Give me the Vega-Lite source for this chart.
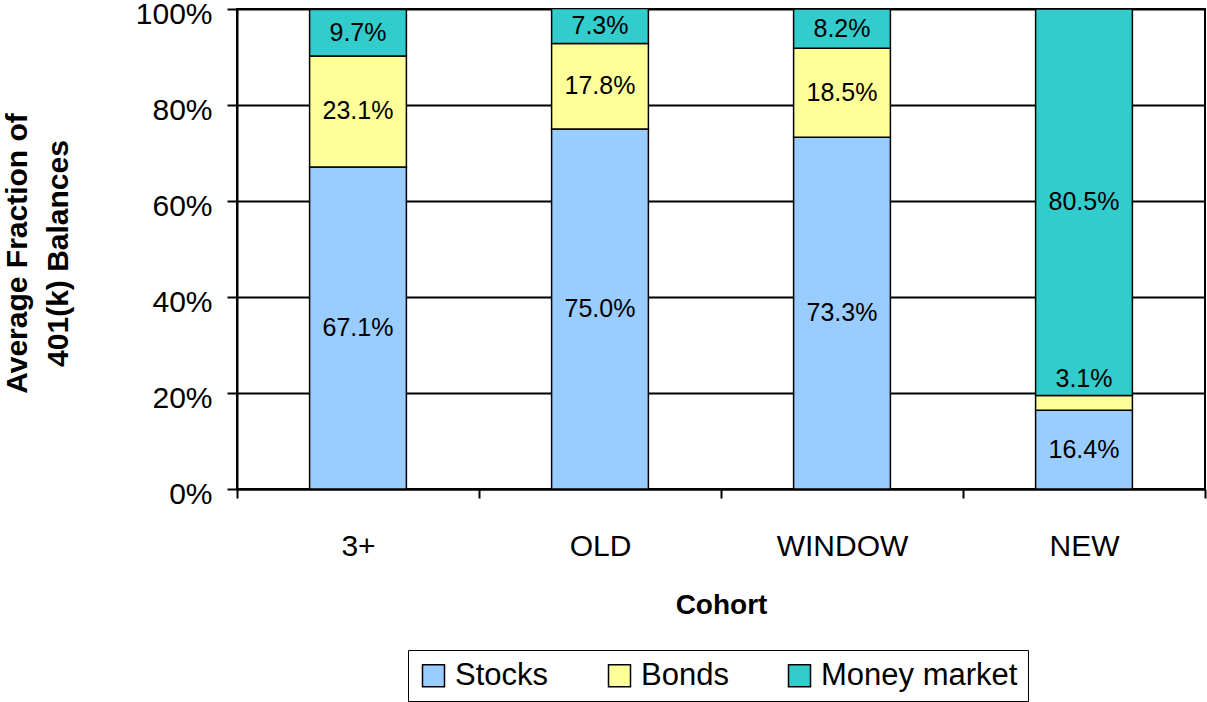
{
  "$schema": "https://vega.github.io/schema/vega-lite/v6.json",
  "width": 968,
  "height": 480,
  "autosize": {"type": "none"},
  "padding": {"left": 237, "top": 9, "right": 2, "bottom": 213},
  "background": "white",
  "config": {
    "font": "Liberation Sans",
    "view": {"stroke": "black", "strokeWidth": 2},
    "axis": {"labelColor": "black", "titleColor": "black", "domainColor": "black", "tickColor": "black", "gridColor": "black"}
  },
  "data": {
    "values": [
      {"cohort": "3+", "series": "Stocks", "value": 0.671},
      {"cohort": "3+", "series": "Bonds", "value": 0.231},
      {"cohort": "3+", "series": "Money market", "value": 0.097},
      {"cohort": "OLD", "series": "Stocks", "value": 0.750},
      {"cohort": "OLD", "series": "Bonds", "value": 0.178},
      {"cohort": "OLD", "series": "Money market", "value": 0.073},
      {"cohort": "WINDOW", "series": "Stocks", "value": 0.733},
      {"cohort": "WINDOW", "series": "Bonds", "value": 0.185},
      {"cohort": "WINDOW", "series": "Money market", "value": 0.082},
      {"cohort": "NEW", "series": "Stocks", "value": 0.164},
      {"cohort": "NEW", "series": "Bonds", "value": 0.031},
      {"cohort": "NEW", "series": "Money market", "value": 0.805}
    ]
  },
  "transform": [
    {"calculate": "indexof(['Stocks','Bonds','Money market'], datum.series)", "as": "ord"},
    {"stack": "value", "groupby": ["cohort"], "sort": [{"field": "ord", "order": "ascending"}], "as": ["v0", "v1"]},
    {"calculate": "(datum.v0 + datum.v1) / 2", "as": "mid"}
  ],
  "encoding": {
    "x": {
      "field": "cohort",
      "type": "nominal",
      "sort": ["3+", "OLD", "WINDOW", "NEW"],
      "scale": {"paddingInner": 0, "paddingOuter": 0},
      "axis": {
        "title": "Cohort",
        "titleFontSize": 28,
        "titleFontWeight": "bold",
        "titlePadding": 30,
        "labelFontSize": 30,
        "labelAngle": 0,
        "labelPadding": 33,
        "tickBand": "extent",
        "tickSize": 9,
        "tickWidth": 2,
        "domainWidth": 2,
        "grid": false
      }
    }
  },
  "layer": [
    {
      "mark": {"type": "bar", "stroke": "black", "strokeWidth": 1.5, "clip": true, "width": {"band": 0.4}},
      "encoding": {
        "y": {
          "field": "v1",
          "type": "quantitative",
          "scale": {"domain": [0, 1], "nice": false},
          "axis": {
            "title": ["Average Fraction of", "401(k) Balances"],
            "titleFontSize": 30,
            "titleFontWeight": "bold",
            "titleLineHeight": 41,
            "titlePadding": 62,
            "titleY": 244,
            "labelFontSize": 30,
            "labelPadding": 15,
            "labelOffset": 5,
            "values": [0, 0.2, 0.4, 0.6, 0.8, 1],
            "format": ".0%",
            "tickSize": 10,
            "tickWidth": 2,
            "domainWidth": 2,
            "gridWidth": 2,
            "grid": true
          }
        },
        "y2": {"field": "v0"},
        "color": {
          "field": "series",
          "type": "nominal",
          "sort": ["Stocks", "Bonds", "Money market"],
          "scale": {"domain": ["Stocks", "Bonds", "Money market"], "range": ["#99CCFF", "#FFFF99", "#33CCCC"]},
          "legend": {
            "title": null,
            "orient": "none",
            "direction": "horizontal",
            "legendX": 171,
            "legendY": 641,
            "labelFontSize": 31,
            "labelColor": "black",
            "labelOffset": 6,
            "labelLimit": 400,
            "symbolType": "square",
            "symbolSize": 484,
            "symbolStrokeColor": "black",
            "symbolStrokeWidth": 1.5,
            "symbolOpacity": 1,
            "columnPadding": 55,
            "strokeColor": "black",
            "padding": 10
          }
        }
      }
    },
    {
      "transform": [{"filter": "datum.value >= 0.05"}],
      "mark": {"type": "text", "fontSize": 25, "color": "black", "baseline": "middle", "align": "center"},
      "encoding": {
        "y": {"field": "mid", "type": "quantitative"},
        "text": {"field": "value", "type": "quantitative", "format": ".1%"}
      }
    },
    {
      "transform": [{"filter": "datum.value < 0.05"}],
      "mark": {"type": "text", "fontSize": 25, "color": "black", "baseline": "bottom", "align": "center", "dy": -3},
      "encoding": {
        "y": {"field": "v1", "type": "quantitative"},
        "text": {"field": "value", "type": "quantitative", "format": ".1%"}
      }
    }
  ]
}
